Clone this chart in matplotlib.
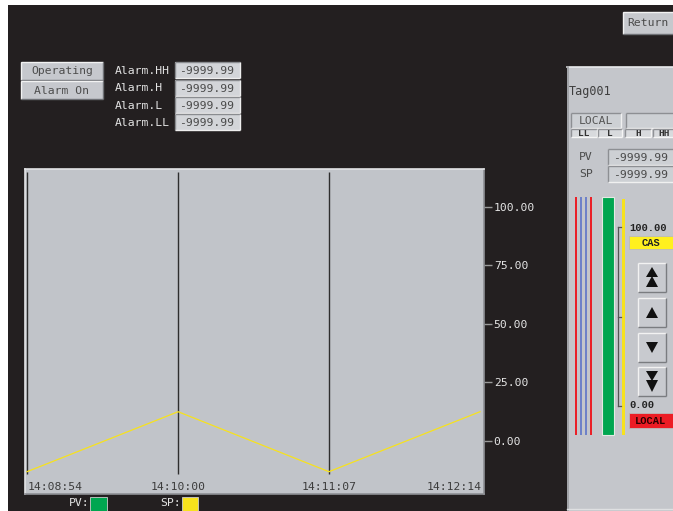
import matplotlib
matplotlib.use('Agg')
import matplotlib.pyplot as plt
from matplotlib.patches import Rectangle, Polygon
from matplotlib import font_manager as fm

# ---------------- data ----------------
time_labels = ['14:08:54', '14:10:00', '14:11:07', '14:12:14']
time_secs = [0, 66.7, 133.3, 200]
sp_values = [-13.1, 12.5, -13.1, 12.5]
y_ticks = [0, 25, 50, 75, 100]
y_tick_labels = ['0.00', '25.00', '50.00', '75.00', '100.00']
alarm_names = ['Alarm.HH', 'Alarm.H', 'Alarm.L', 'Alarm.LL']
alarm_values = ['-9999.99', '-9999.99', '-9999.99', '-9999.99']
status_buttons = ['Operating', 'Alarm On']
tag_name = 'Tag001'
mode_label = 'LOCAL'
limit_labels = ['LL', 'L', 'H', 'HH']
pv_sp_names = ['PV', 'SP']
pv_sp_values = ['-9999.99', '-9999.99']
bar_max_label = '100.00'
bar_min_label = '0.00'
mode_top = 'CAS'
mode_bottom = 'LOCAL'
legend_names = ['PV:', 'SP:']

# ---------------- style ----------------
BG = '#231f20'
GRAY = '#c1c4c9'
PANEL = '#c4c6cb'
BOX = '#d3d5d9'
LIGHT_TXT = '#e4e4e4'
DARK_TXT = '#444444'
YELLOW = '#f7e21d'
GREEN = '#00a650'
RED = '#ec1c24'
BLUE = '#6c80c8'

names = {f.name for f in fm.fontManager.ttflist}
FONT = 'DejaVu Sans Mono'
MONO = 'Liberation Mono' if 'Liberation Mono' in names else 'DejaVu Sans Mono'
FS = 8.2

W, H = 673, 511
fig = plt.figure(figsize=(W / 100, H / 100), dpi=100, facecolor=BG)
ov = fig.add_axes([0, 0, 1, 1])
ov.set_xlim(0, W)
ov.set_ylim(H, 0)
ov.axis('off')


def T(x, y, s, size=FS, color=DARK_TXT, ha='left', va='center', family=None, weight='normal'):
    fam = family if family else FONT
    ov.text(x, y, s, fontsize=size, color=color, ha=ha, va=va, family=fam, weight=weight)


def bevel(x, y, w, h, face, sunken=False, light='#f2f2f2', dark='#6f7176', lw=1.0):
    ov.add_patch(Rectangle((x, y), w, h, facecolor=face, edgecolor='none'))
    a, b = (dark, light) if sunken else (light, dark)
    ov.plot([x, x + w], [y, y], color=a, lw=lw, solid_capstyle='butt')
    ov.plot([x, x], [y, y + h], color=a, lw=lw, solid_capstyle='butt')
    ov.plot([x, x + w], [y + h, y + h], color=b, lw=lw, solid_capstyle='butt')
    ov.plot([x + w, x + w], [y, y + h], color=b, lw=lw, solid_capstyle='butt')


# white outer border
ov.add_patch(Rectangle((0, 0), W, 5, facecolor='white', edgecolor='none'))
ov.add_patch(Rectangle((0, 0), 8, H, facecolor='white', edgecolor='none'))

# status buttons
for i, s in enumerate(status_buttons):
    y0 = 62 + i * 19
    bevel(21, y0, 82, 18, '#c6c8cd')
    T(62, y0 + 9.5, s, ha='center', color='#4d4d4d')

# alarm labels & values
for i, (n, v) in enumerate(zip(alarm_names, alarm_values)):
    yc = 71 + i * 17.3
    T(115, yc, n, color=LIGHT_TXT)
    bevel(175, yc - 8.5, 65, 16, BOX, sunken=True, light='#eeeeee', dark='#8a8c90')
    T(207, yc + 0.5, v, ha='center', color='#4a4a4a')

# Return button
bevel(623, 12, 52, 22, '#c6c8cd')
T(648, 23, 'Return', ha='center', color='#4a4a4a')

# ---------------- right faceplate ----------------
ov.add_patch(Rectangle((567, 67), 110, 450, facecolor=PANEL, edgecolor='none'))
ov.plot([567, 673], [67, 67], color='#e9eaec', lw=1.2)
ov.plot([567.5, 567.5], [67, 511], color='#9c9ea2', lw=1.2)
ov.plot([567, 673], [509, 509], color='#dfe0e2', lw=1)

T(569, 92, tag_name, size=FS + 0.3, color='#3e3e3e')

bevel(571, 113, 50, 15, '#cdd0d4', sunken=True, light='#f0f0f0', dark='#8d8f93')
T(596, 120.5, mode_label, ha='center', color='#555555')
bevel(626, 113, 50, 15, '#cdd0d4', sunken=True, light='#f0f0f0', dark='#8d8f93')

lim_x = [(571, 26), (598, 24), (625, 26), (653, 22)]
for (x0, w), s in zip(lim_x, limit_labels):
    bevel(x0, 129, w, 8, '#d8dadd', sunken=True, light='#f5f5f5', dark='#909296')
    T(x0 + w / 2, 133.3, s, size=6.8, ha='center', family=MONO, weight='bold', color='#333333')

for i, (n, v) in enumerate(zip(pv_sp_names, pv_sp_values)):
    yc = 157.5 + i * 16.5
    T(586, yc, n, ha='center', color='#4a4a4a')
    bevel(608, yc - 8, 68, 16, '#cdd0d4', sunken=True, light='#f0f0f0', dark='#8d8f93')
    T(641, yc + 0.5, v, ha='center', color='#4a4a4a')

# bar graph lines
for x, c in [(576, RED), (581, BLUE), (586, BLUE), (591, RED)]:
    ov.plot([x, x], [197, 435], color=c, lw=1.4, solid_capstyle='butt')
ov.add_patch(Rectangle((602, 197), 12, 238, facecolor=GREEN, edgecolor='#e3eae3', lw=0.8))
ov.add_patch(Rectangle((621.5, 199), 3.2, 236, facecolor=YELLOW, edgecolor='none'))

# scale bracket
ov.plot([618, 618], [227, 406], color='#555555', lw=0.9)
for yy, d in [(227, 2.5), (317, 2.5), (406, 2.5)]:
    ov.plot([618, 618 + d], [yy, yy], color='#555555', lw=0.9)

T(629, 228, bar_max_label, size=7.5, family=MONO, weight='bold', color='#222222')
ov.add_patch(Rectangle((629, 236), 46, 13, facecolor='#fff01f', edgecolor='#bbb', lw=0.6))
T(651, 242.8, mode_top, size=7.5, ha='center', family=MONO, weight='bold', color='#222222')

T(629, 405, bar_min_label, size=7.5, family=MONO, weight='bold', color='#222222')
ov.add_patch(Rectangle((629, 413), 46, 15, facecolor=RED, edgecolor='#bbb', lw=0.6))
T(651, 420.8, mode_bottom, size=7.5, ha='center', family=MONO, weight='bold', color='#2a0000')

# arrow buttons
btn_y = [(263, 292), (298, 327), (333, 362), (367, 396)]
for y0, y1 in btn_y:
    bevel(638, y0, 28, y1 - y0, '#c8cacf', light='#f2f2f2', dark='#7a7c80')


def tri(cx, yt, yb, up=True, hw=6):
    if up:
        pts = [(cx, yt), (cx - hw, yb), (cx + hw, yb)]
    else:
        pts = [(cx - hw, yt), (cx + hw, yt), (cx, yb)]
    ov.add_patch(Polygon(pts, closed=True, facecolor='#111111', edgecolor='none'))


cx = 652
tri(cx, 267, 277, True)
tri(cx, 276, 287, True)
tri(cx, 307, 318, True)
tri(cx, 342, 353, False)
tri(cx, 371, 381, False)
tri(cx, 380, 392, False)

# legend
T(89, 503, legend_names[0], ha='right', color=LIGHT_TXT)
ov.add_patch(Rectangle((90, 497), 17, 14, facecolor=GREEN, edgecolor='#cccccc', lw=0.6))
T(181, 503, legend_names[1], ha='right', color=LIGHT_TXT)
ov.add_patch(Rectangle((182, 497), 16, 14, facecolor=YELLOW, edgecolor='#cccccc', lw=0.6))

# ---------------- trend chart ----------------
PX0, PX1, PY0, PY1 = 25, 484, 169, 494


def yv(py):
    return (441 - py) / 2.343


def tv(px):
    return (px - 27) / 2.265


ax = fig.add_axes([PX0 / W, (H - PY1) / H, (PX1 - PX0) / W, (PY1 - PY0) / H])
ax.set_facecolor(GRAY)
ax.set_xlim(tv(PX0), tv(PX1))
ax.set_ylim(yv(PY1), yv(PY0))
for side, sp in ax.spines.items():
    sp.set_linewidth(1.2)
    sp.set_color('#e2e3e5' if side in ('top', 'left') else '#8e9095')

ax.vlines(time_secs[:3], yv(474), yv(172), color='#2e2e2e', lw=1.0)
ax.plot(time_secs, sp_values, color=YELLOW, lw=0.9)

ax.set_xticks([])
ax.yaxis.tick_right()
ax.set_yticks(y_ticks)
ax.set_yticklabels(y_tick_labels)
ax.tick_params(axis='y', colors='#9a9a9a', length=6, width=1, pad=1)
for lab in ax.get_yticklabels():
    lab.set_color(LIGHT_TXT)
    lab.set_family(FONT)
    lab.set_fontsize(FS)

has = ['left', 'center', 'center', 'right']
offs = [0.3, 0, 0, 0.6]
for t, s, h, o in zip(time_secs, time_labels, has, offs):
    ax.text(t + o, yv(486.5), s, ha=h, va='center', color='#3c3c3c',
            family=FONT, fontsize=FS)

fig.savefig('out.png', dpi=100, facecolor=BG)
